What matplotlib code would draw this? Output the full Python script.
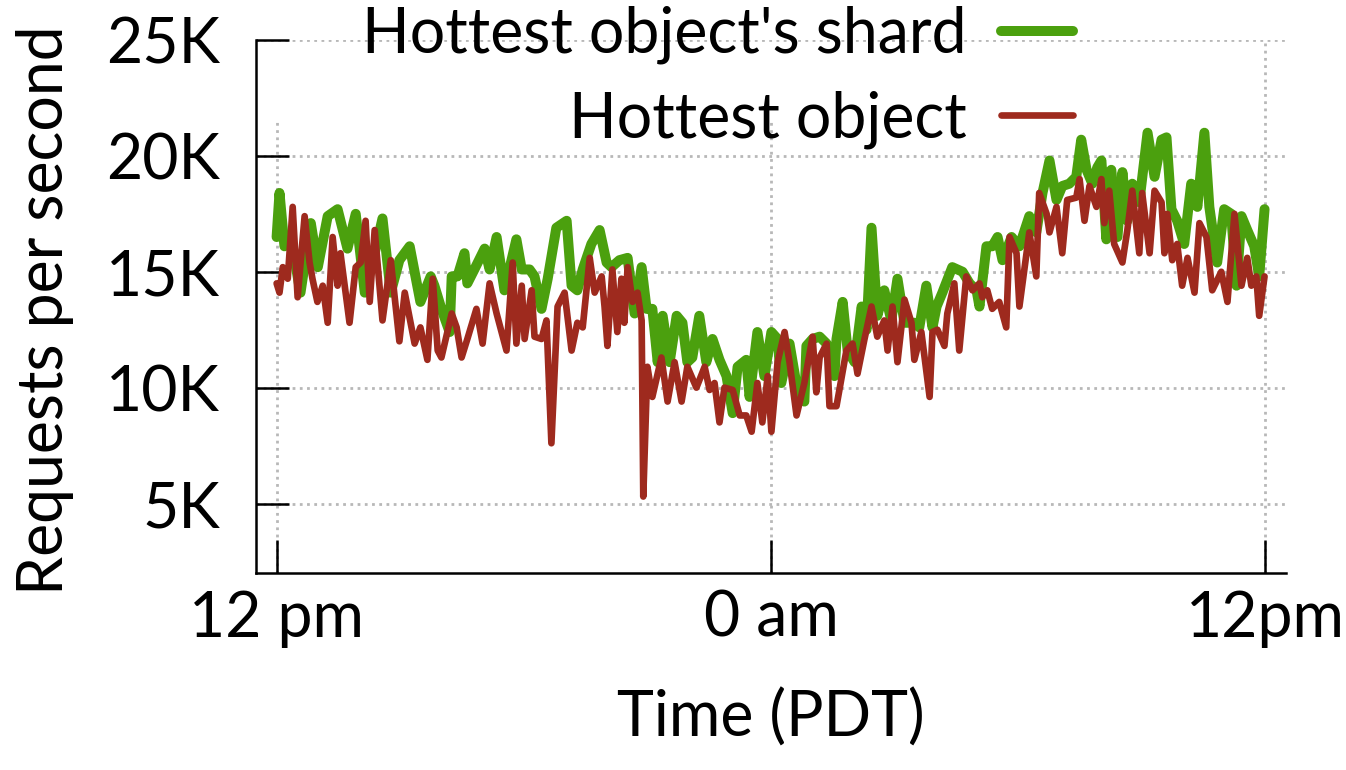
import matplotlib
matplotlib.use("Agg")
import matplotlib.pyplot as plt
from matplotlib.ticker import FuncFormatter

plt.rcParams['font.family'] = ['Lato', 'DejaVu Sans']

# Hours since 12 pm PDT and requests per second (thousands)
shard_hours = [0.00, 0.07, 0.19, 0.36, 0.58, 0.83, 1.00, 1.24, 1.48, 1.72, 1.92, 2.14, 2.38, 2.57,
               2.77, 2.98, 3.23, 3.49, 3.74, 3.83, 4.00, 4.20, 4.25, 4.39, 4.56, 4.63, 4.80, 5.05,
               5.17, 5.34, 5.53, 5.82, 5.95, 6.14, 6.26, 6.43, 6.58, 6.79, 7.04, 7.16, 7.30, 7.43,
               7.64, 7.84, 8.01, 8.13, 8.32, 8.52, 8.69, 8.86, 8.98, 9.12, 9.25, 9.37, 9.54, 9.71,
               9.85, 9.97, 10.09, 10.26, 10.43, 10.58, 10.75, 10.92, 11.07, 11.19, 11.40, 11.48,
               11.67, 11.84, 12.01, 12.16, 12.25, 12.45, 12.64, 12.81, 12.86, 13.01, 13.18, 13.35,
               13.54, 13.59, 13.74, 13.86, 14.03, 14.20, 14.32, 14.44, 14.58, 14.75, 14.92, 15.07,
               15.24, 15.48, 15.60, 15.77, 15.92, 16.02, 16.16, 16.40, 16.65, 16.82, 16.99, 17.06,
               17.23, 17.37, 17.50, 17.62, 17.84, 18.03, 18.27, 18.44, 18.59, 18.76, 18.93, 19.07,
               19.24, 19.41, 19.53, 19.66, 19.80, 19.92, 20.02, 20.14, 20.26, 20.41, 20.53, 20.65,
               20.77, 20.94, 21.14, 21.31, 21.48, 21.60, 21.72, 21.86, 22.03, 22.20, 22.35, 22.52,
               22.64, 22.83, 23.00, 23.17, 23.30, 23.42, 23.56, 23.73, 23.85, 23.98]
shard_krps = [16.5, 18.4, 16.1, 16.3, 14.1, 17.1, 15.2, 17.4, 17.7, 16.0, 17.5, 14.1, 15.8, 17.3,
              14.1, 15.5, 16.1, 13.7, 14.8, 14.4, 13.4, 12.4, 14.8, 14.8, 15.8, 14.5, 15.1, 16.0,
              15.1, 16.5, 14.2, 16.4, 15.1, 15.1, 14.8, 13.4, 14.7, 16.9, 17.2, 14.4, 14.2, 15.1,
              16.2, 16.8, 15.4, 15.2, 15.5, 15.6, 13.2, 15.2, 13.4, 13.4, 11.1, 13.1, 11.1, 13.1,
              12.8, 11.1, 11.3, 13.1, 11.1, 12.1, 11.2, 10.5, 8.9, 10.9, 11.2, 9.6,
              12.4, 10.5, 12.4, 12.1, 10.2, 11.9, 9.9, 9.4, 11.8, 12.1, 12.2, 11.9,
              10.5, 12.1, 13.7, 11.6, 11.1, 13.5, 12.5, 16.9, 13.1, 14.2, 12.9, 14.7,
              12.8, 12.8, 12.6, 14.4, 12.6, 13.5, 14.1, 15.2, 15.0, 14.5, 14.2, 13.5,
              16.1, 16.1, 16.5, 15.5, 16.5, 16.1, 17.4, 16.7, 18.4, 19.8, 18.1, 18.7,
              18.8, 19.1, 20.7, 19.4, 18.8, 19.5, 19.8, 16.4, 19.4, 16.5, 19.3, 17.2,
              18.8, 18.0, 21.0, 19.1, 20.7, 20.8, 17.7, 17.2, 16.2, 18.8, 17.8, 21.0,
              17.8, 15.4, 17.7, 17.5, 14.4, 17.4, 16.8, 16.1, 14.8, 17.7]

object_hours = [0.00, 0.07, 0.15, 0.27, 0.39, 0.51, 0.68, 0.80, 0.87, 0.99, 1.12, 1.24, 1.36, 1.48,
                1.55, 1.77, 1.92, 2.04, 2.16, 2.26, 2.38, 2.57, 2.77, 2.98, 3.11, 3.35, 3.49, 3.66,
                3.79, 3.91, 4.00, 4.25, 4.37, 4.49, 4.63, 4.85, 5.00, 5.17, 5.34, 5.58, 5.73, 5.82,
                5.95, 6.02, 6.19, 6.26, 6.43, 6.55, 6.67, 6.82, 6.99, 7.16, 7.30, 7.43, 7.60, 7.72,
                7.89, 7.96, 8.03, 8.15, 8.27, 8.37, 8.44, 8.52, 8.64, 8.76, 8.86, 8.90, 9.00, 9.12,
                9.34, 9.49, 9.66, 9.83, 9.97, 10.19, 10.39, 10.51, 10.63, 10.75, 10.87, 11.07, 11.24,
                11.40, 11.53, 11.67, 11.79, 11.92, 12.01, 12.16, 12.33, 12.45, 12.62, 12.81, 13.01,
                13.10, 13.18, 13.35, 13.42, 13.59, 13.83, 13.98, 14.10, 14.27, 14.44, 14.58, 14.75,
                14.83, 14.95, 15.07, 15.24, 15.41, 15.48, 15.65, 15.85, 15.92, 16.04, 16.21, 16.28,
                16.45, 16.57, 16.74, 16.89, 17.06, 17.13, 17.25, 17.37, 17.54, 17.71, 17.79, 17.96,
                18.03, 18.27, 18.44, 18.51, 18.69, 18.76, 18.93, 19.07, 19.19, 19.41, 19.49, 19.61,
                19.73, 19.90, 20.02, 20.09, 20.21, 20.33, 20.53, 20.65, 20.77, 20.94, 21.01, 21.19,
                21.31, 21.48, 21.55, 21.62, 21.74, 21.86, 21.98, 22.11, 22.28, 22.40, 22.57, 22.71,
                22.93, 23.08, 23.25, 23.42, 23.56, 23.66, 23.78, 23.85, 23.98]
object_krps = [14.5, 14.1, 15.2, 14.7, 17.8, 13.9, 17.4, 15.4, 14.7, 13.7, 14.4, 12.8, 16.5, 14.4,
               15.8, 12.8, 15.2, 15.4, 17.2, 13.7, 16.8, 12.9, 15.5, 12.0, 14.1, 11.9, 12.6, 11.2,
               14.7, 11.6, 11.3, 13.2, 12.6, 11.3, 12.1, 13.4, 11.9, 14.5, 13.2, 11.6, 15.4, 11.9,
               14.4, 12.1, 14.2, 12.2, 12.1, 12.9, 7.6, 13.5, 14.1, 11.6, 12.8, 12.6, 15.6, 14.1,
               14.8, 13.5, 11.8, 15.1, 12.4, 14.7, 12.8, 15.2, 13.7, 14.1, 12.9, 5.3, 10.9, 9.6,
               11.3, 9.4, 11.1, 9.4, 10.9, 10.0, 10.9, 9.9, 10.2, 8.5, 10.0, 9.9, 8.8,
               8.8, 8.1, 10.2, 8.5, 10.5, 8.1, 11.1, 12.4, 11.1, 8.8, 10.2, 12.2,
               9.8, 11.3, 11.9, 9.2, 9.2, 11.6, 11.9, 10.6, 12.1, 13.5, 12.2, 12.9,
               11.6, 13.5, 11.1, 13.8, 12.8, 11.2, 12.4, 9.6, 12.4, 12.5, 11.8, 13.2,
               14.5, 11.6, 14.8, 14.2, 14.5, 13.9, 14.2, 13.4, 13.7, 12.6, 16.5, 15.8,
               13.5, 16.7, 14.8, 18.4, 17.5, 16.7, 17.8, 15.8, 18.1, 18.2, 19.0, 17.2,
               18.7, 17.8, 19.0, 17.1, 18.5, 16.2, 15.4, 16.8, 18.5, 15.8, 18.4, 15.8,
               18.5, 18.0, 15.8, 17.5, 15.5, 16.2, 14.4, 15.6, 14.1, 17.1, 16.5, 14.2,
               15.0, 13.7, 17.5, 14.4, 15.6, 14.4, 14.8, 13.1, 14.8]

x_ticks = [0, 12, 24]
x_tick_labels = ["12 pm", "0 am", "12pm"]
y_ticks = [5000, 10000, 15000, 20000, 25000]

GREEN = '#4ba00e'
RED = '#9e2a1e'
GRID = '#b8b8b8'
FS = 45

fig = plt.figure(figsize=(13.46, 7.70), dpi=100)
ax = fig.add_axes([0.1902, 0.2558, 0.7652, 0.6922])

ax.plot(shard_hours, [v * 1000 for v in shard_krps], color=GREEN, lw=7.2,
        solid_joinstyle='round', solid_capstyle='round', label="Hottest object's shard", zorder=3)
ax.plot(object_hours, [v * 1000 for v in object_krps], color=RED, lw=4.8,
        solid_joinstyle='round', solid_capstyle='round', label="Hottest object", zorder=4)

ax.set_xlim(-0.5, 24.5)
ax.set_ylim(2000, 25000)

# dotted grid; the key sits over the upper part of the left vertical lines
for yv in y_ticks:
    ax.axhline(yv, color=GRID, lw=2.0, ls=(0, (1, 1.6)), zorder=1)
key_floor = (21550 - 2000) / (25000 - 2000)
for xv in x_ticks:
    top = 1.0 if xv == 24 else key_floor
    ax.axvline(xv, ymax=top, color=GRID, lw=2.0, ls=(0, (1, 1.6)), zorder=1)

ax.set_xticks(x_ticks)
ax.set_xticklabels(x_tick_labels)
ax.set_yticks(y_ticks)
ax.yaxis.set_major_formatter(FuncFormatter(lambda v, p: f"{int(v / 1000)}K"))
ax.tick_params(axis='both', direction='in', length=24, width=1.8, labelsize=FS, color='black')
ax.tick_params(axis='y', pad=26)
ax.tick_params(axis='x', pad=12)
ax.tick_params(top=False, right=False)

for side in ('top', 'right'):
    ax.spines[side].set_visible(False)
for side in ('left', 'bottom'):
    ax.spines[side].set_linewidth(1.8)

fig.text(45 / 1346, 1 - 310 / 770, "Requests per second", rotation=90,
         ha='center', va='center', fontsize=FS)
fig.text(771 / 1346, 1 - 718 / 770, "Time (PDT)", ha='center', va='center', fontsize=FS)

leg = ax.legend(loc='upper right', bbox_to_anchor=(0.793, 1.065), frameon=False,
                markerfirst=False, fontsize=FS, handlelength=1.15, handletextpad=0.55,
                labelspacing=0.42, borderpad=0, borderaxespad=0)

fig.savefig("out.png", dpi=100)
